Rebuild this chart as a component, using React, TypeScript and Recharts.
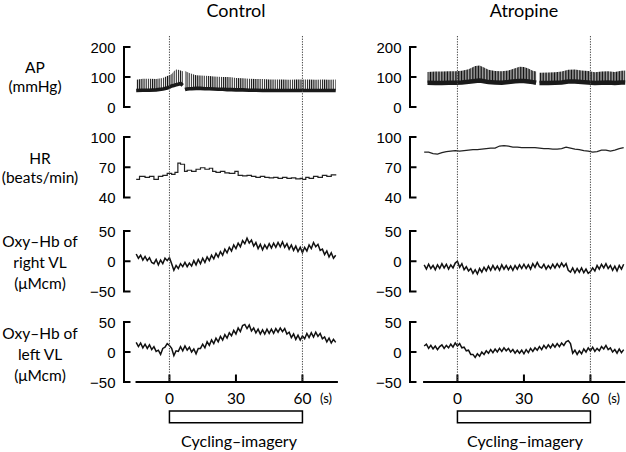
import React from 'react';
import { ComposedChart, Line, Area, XAxis, YAxis, ReferenceLine, ReferenceArea } from 'recharts';

// ---------------- data ----------------
const stimWindow = [0, 60];
const xTicks = [0, 30, 60];
const apTicks = [0, 100, 200];
const hrTicks = [40, 70, 100];
const oxyTicks = [-50, 0, 50];
const apDomain = [0, 200];
const hrDomain = [40, 100];
const oxyDomain = [-50, 50];

// Arterial pressure envelope (systolic top, mid of diastolic band), Control
const apCtrlT = [-15, -12, -9, -6, -3, -1, 0, 1, 2, 3, 4, 5, 6, 6.5, 7, 8, 9, 10, 12, 14, 16, 18, 20, 22, 24, 26, 28, 30, 33, 36, 39, 42, 45, 48, 51, 54, 57, 60, 63, 66, 69, 72, 75];
const apCtrlSys = [91, 94, 94, 93, 97, 103, 106, 110, 119, 125, 124, 122, 119, null, 120, 117, 113, 111, 106, 105, 104, 103, 102, 101, 100, 100, 99, 97, 96, 94, 93, 93, 92, 92, 92, 91, 92, 92, 92, 91, 92, 91, 92];
const apCtrlDia = [55, 56, 56, 57, 60, 63, 66, 70, 72, 74, 76, 78, 72, null, 58, 60, 61, 61, 62, 62, 61, 61, 60, 59, 59, 58, 58, 57, 57, 56, 56, 55, 55, 55, 55, 55, 55, 55, 55, 55, 55, 55, 55];

// Atropine
const apAtrT = [-13.5, -10, -7, -4, -1, 2, 5, 8, 10, 12, 14, 17, 20, 23, 26, 28, 30, 32, 34, 35.5, 36.2, 37, 41, 44, 47, 50, 53, 56, 59, 62, 65, 68, 71, 74, 76];
const apAtrSys = [117, 118, 118, 119, 119, 121, 126, 137, 138, 132, 124, 120, 119, 122, 129, 134, 133, 128, 121, 118, null, 114, 115, 116, 118, 124, 125, 122, 120, 116, 118, 119, 117, 121, 122];
const apAtrDia = [81, 80, 80, 81, 81, 82, 84, 87, 88, 86, 83, 82, 81, 83, 86, 87, 87, 85, 83, 81, null, 80, 80, 81, 82, 85, 85, 83, 82, 80, 81, 82, 80, 82, 82];

// Heart rate
const hrCtrlT = [-15, -13.5, -11, -9, -7, -5, -3, -1, 1, 2.5, 3.8, 5, 6.8, 8, 10, 12, 14, 16, 18, 19.5, 21, 23, 25, 27, 29.5, 31, 33, 35, 37, 39, 41, 43, 45, 47, 49, 51, 53, 55, 57, 59, 60, 61.5, 63, 65, 67, 69, 71, 73, 75];
const hrCtrl = [58, 61, 60, 61, 58, 61, 62, 64, 63, 65, 74, 73, 66, 67, 66, 68, 69.5, 68, 69, 66, 65, 66, 64.5, 64, 66, 62, 61.5, 62, 61, 60, 61, 60, 59.5, 60, 59, 60, 59, 59.5, 58.5, 59, 58, 60, 59, 61, 60, 62, 61, 62.5, 63];
const hrAtrT = [-15, -13, -11, -9, -7, -5, -3, -1, 1, 3, 5, 7, 9, 11, 13, 15, 17, 19, 21, 23, 25, 27, 29, 31, 33, 35, 37, 39, 41, 43, 45, 47, 49, 51, 53, 55, 57, 59, 61, 63, 65, 67, 69, 71, 73, 75];
const hrAtr = [85, 85, 83.5, 83, 84.5, 85.5, 86, 86.5, 86, 86.5, 87, 87.5, 87.5, 88, 88.5, 89, 89, 91, 91.5, 91, 90, 90, 89.5, 89.5, 89.5, 89.5, 89, 88.5, 88.5, 88, 88, 88.5, 90, 89, 88, 87.5, 86.5, 86, 85, 85.5, 87, 87, 86, 87, 88.5, 89.5];

// Oxy-Hb, one reading per second from -15 s to 75 s
const oxyT = Array.from({ length: 91 }, (_, i) => i - 15);
const oxyRCtrl = [12, 5, 10, 2, 8, 1, 6, -2, -4, 3, -6, 2, -4, 5, 1,
  6, -4, -15, -7, -12, -4, -9, -2, -9, -3,
  -8, 1, -6, 3, -4, 5, -2, 7, 1, 10,
  4, 13, 7, 16, 10, 20, 14, 23, 17, 27,
  21, 30, 24, 34, 29, 38, 30, 35, 25, 31,
  21, 28, 19, 27, 21, 29, 22, 30, 23, 31,
  24, 32, 23, 29, 20, 27, 18, 25, 16, 23,
  14, 23, 17, 27, 21, 31, 24, 28, 18, 20,
  11, 17, 7, 14, 5, 10];
const oxyLCtrl = [16, 9, 15, 7, 13, 6, 12, 4, 9, 1, 3, -4, 6, 8, 14,
  11, 6, -6, 2, 1, 9, 2, 10, 3, 8,
  0, 5, -3, 6, 6, 13, 7, 17, 11, 20,
  14, 23, 17, 26, 20, 29, 23, 32, 27, 36,
  30, 40, 34, 44, 46, 39, 45, 35, 40, 32,
  38, 30, 37, 30, 38, 31, 38, 31, 39, 33,
  40, 34, 39, 30, 33, 24, 30, 21, 28, 20,
  27, 22, 31, 24, 32, 25, 33, 26, 31, 22,
  25, 17, 23, 15, 21, 16];
const oxyRAtr = [-6, -13, -5, -12, -7, -14, -6, -12, -4, -11, -5, -13, -6, -11, -3,
  0, -10, -4, -14, -9, -16, -12, -20, -14, -21,
  -12, -18, -10, -16, -8, -15, -7, -14, -8, -15,
  -6, -13, -7, -14, -8, -15, -7, -13, -6, -12,
  -5, -12, -6, -13, -4, -10, -2, -9, -11, -5,
  -13, -7, -12, -5, -11, -4, -10, -3, -9, -4,
  -15, -18, -11, -19, -12, -18, -11, -19, -13, -20,
  -17, -11, -16, -7, -13, -5, -11, -4, -12, -7,
  -15, -8, -16, -7, -13, -5];
const oxyLAtr = [10, 13, 6, 11, 5, 10, 4, 9, 12, 6, 11, 7, 13, 8, 15,
  10, 14, 7, 8, 2, 3, -4, -4, -9, -3,
  -7, 0, -4, 2, -2, 4, -1, 5, 0, 6,
  1, 7, 2, 6, 0, 4, -2, 3, -2, 3,
  -3, 4, -1, 6, 1, 7, 3, 9, 4, 11,
  6, 12, 7, 13, 8, 14, 9, 15, 11, 17,
  19, 14, -2, 3, -4, 2, -3, 5, 0, 7,
  2, 8, 1, 6, 2, 9, 5, 11, 4, 7,
  0, 4, -2, 5, -1, 4];

const rowLabels = [
  ['AP', '(mmHg)'],
  ['HR', '(beats/min)'],
  ['Oxy\u2013Hb of', 'right VL', '(\u03bcMcm)'],
  ['Oxy\u2013Hb of', 'left VL', '(\u03bcMcm)'],
];
const titles = ['Control', 'Atropine'];
const stimLabel = 'Cycling\u2013imagery';
const unitLabel = '(s)';

// ---------------- layout ----------------
const FONT = 'Lato, "Open Sans", sans-serif';
const NUM_FONT = '"Liberation Sans", Arial, sans-serif';
const PX_PER_S = 2.2167;
const YW = 45;
const MT = 8;
const MB = 8;
const MR = 4;
const DOT_TOP = 36;
const AXIS_Y = 381.8;
const BOX_TOP = 411;
const BOX_BOTTOM = 422.7;

const COLS = [
  { key: 'ctrl', axisX: 123.5, xMin: -20.5, xMax: 76, axisStart: -15.3, titleX: 236, cycX: 239, sX: 326, beat: 2.15, rectW: 1.1, diaW: 3.6 },
  { key: 'atr', axisX: 410.3, xMin: -21.4, xMax: 75.7, axisStart: -15.5, titleX: 524, cycX: 525, sX: 614, beat: 1.55, rectW: 1.05, diaW: 4.5 },
];
const ROWS = [
  { top: 46.5, bottom: 106.5 },
  { top: 137, bottom: 197.5 },
  { top: 230.5, bottom: 291 },
  { top: 321.8, bottom: 381.8 },
];
const labelLayout = [
  { x: 35, ys: [73, 92] },
  { x: 40, ys: [163.5, 182.5] },
  { x: 40, ys: [246.5, 268, 288.5] },
  { x: 40, ys: [338.5, 360, 380.5] },
];

const fmt = (v: number) => (v < 0 ? `\u2212${Math.abs(v)}` : `${v}`);

const YTick = (props: any) => {
  const { x, y, payload } = props;
  return (
    <g>
      <line x1={x - 1} x2={x + 6.5} y1={y} y2={y} stroke="#000" strokeWidth={2} />
      <text x={x - 8.5} y={y + 5.6} textAnchor="end" fontFamily={NUM_FONT} fontSize={15} fill="#000">
        {fmt(payload.value)}
      </text>
    </g>
  );
};

const XTick = (props: any) => {
  const { x, y, payload } = props;
  return (
    <g>
      <line x1={x} x2={x} y1={y - 7.5} y2={y} stroke="#000" strokeWidth={2} />
      <text x={x} y={y + 22.3} textAnchor="middle" fontFamily={FONT} fontSize={15.5} fill="#000">
        {payload.value}
      </text>
    </g>
  );
};

function Panel(props: any) {
  const { col, row, data, domain, ticks, showX, children } = props;
  const plotW = (col.xMax - col.xMin) * PX_PER_S;
  const plotH = row.bottom - row.top;
  const xH = showX ? 34 : 0;
  const width = YW + plotW + MR;
  const height = MT + plotH + xH + MB;
  return (
    <div style={{ position: 'absolute', left: col.axisX - YW, top: row.top - MT, width, height }}>
      <ComposedChart width={width} height={height} data={data} margin={{ top: MT, right: MR, bottom: MB, left: 0 }}>
        <XAxis
          dataKey="t"
          type="number"
          domain={[col.xMin, col.xMax]}
          allowDataOverflow
          hide={!showX}
          height={showX ? xH : 0}
          ticks={xTicks}
          interval={0}
          tickLine={false}
          axisLine={false}
          tickSize={0}
          tickMargin={0}
          tick={(p: any) => <XTick {...p} />}
        />
        <YAxis
          type="number"
          domain={domain}
          allowDataOverflow
          ticks={ticks}
          interval={0}
          width={YW}
          tickLine={false}
          axisLine={{ stroke: '#000', strokeWidth: 2 }}
          tickSize={0}
          tickMargin={0}
          tick={(p: any) => <YTick {...p} />}
        />
        {children}
        {showX && (
          <ReferenceLine
            segment={[{ x: col.axisStart, y: domain[0] }, { x: col.xMax, y: domain[0] }]}
            stroke="#000"
            strokeWidth={2}
          />
        )}
      </ComposedChart>
    </div>
  );
}

function Overlay({ col }: any) {
  const plotW = (col.xMax - col.xMin) * PX_PER_S;
  const mt = 4;
  const mb = 4;
  const width = YW + plotW + MR;
  const height = mt + (BOX_BOTTOM - DOT_TOP) + mb;
  const stimData = stimWindow.map((t) => ({ t }));
  return (
    <div style={{ position: 'absolute', left: col.axisX - YW, top: DOT_TOP - mt, width, height, pointerEvents: 'none' }}>
      <ComposedChart width={width} height={height} data={stimData} margin={{ top: mt, right: MR, bottom: mb, left: YW }}>
        <XAxis dataKey="t" type="number" domain={[col.xMin, col.xMax]} allowDataOverflow hide />
        <YAxis type="number" domain={[-BOX_BOTTOM, -DOT_TOP]} allowDataOverflow hide />
        {stimWindow.map((v) => (
          <ReferenceLine
            key={v}
            segment={[{ x: v, y: -DOT_TOP }, { x: v, y: -AXIS_Y }]}
            stroke="#444"
            strokeWidth={1}
            strokeDasharray="1.3 1.3"
          />
        ))}
        <ReferenceArea
          x1={stimWindow[0]}
          x2={stimWindow[1]}
          y1={-BOX_BOTTOM}
          y2={-BOX_TOP}
          stroke="#000"
          strokeWidth={1.5}
          fill="#fff"
          fillOpacity={1}
        />
      </ComposedChart>
    </div>
  );
}

const apData = [
  apCtrlT.map((t, i) => ({ t, sys: apCtrlSys[i], dia: apCtrlDia[i] })),
  apAtrT.map((t, i) => ({ t, sys: apAtrSys[i], dia: apAtrDia[i] })),
];
const hrData = [
  hrCtrlT.map((t, i) => ({ t, hr: hrCtrl[i] })),
  hrAtrT.map((t, i) => ({ t, hr: hrAtr[i] })),
];
const oxyRData = [
  oxyT.map((t, i) => ({ t, v: oxyRCtrl[i] })),
  oxyT.map((t, i) => ({ t, v: oxyRAtr[i] })),
];
const oxyLData = [
  oxyT.map((t, i) => ({ t, v: oxyLCtrl[i] })),
  oxyT.map((t, i) => ({ t, v: oxyLAtr[i] })),
];

export default function App() {
  return (
    <div style={{ position: 'absolute', left: 0, top: 0, width: 626, height: 452, overflow: 'hidden', background: '#fff' }}>
      <svg width={626} height={452} style={{ position: 'absolute', left: 0, top: 0 }}>
        {titles.map((t, i) => (
          <text key={t} x={COLS[i].titleX} y={17} textAnchor="middle" fontFamily={FONT} fontSize={18} fill="#000">
            {t}
          </text>
        ))}
        {rowLabels.map((lines, r) =>
          lines.map((s, k) => (
            <text key={`${r}-${k}`} x={labelLayout[r].x} y={labelLayout[r].ys[k]} textAnchor="middle" fontFamily={FONT} fontSize={15.5} fill="#000">
              {s}
            </text>
          ))
        )}
        {COLS.map((c) => (
          <g key={c.key}>
            <text x={c.sX} y={403} textAnchor="middle" fontFamily={FONT} fontSize={13} fill="#000">
              {unitLabel}
            </text>
            <text x={c.cycX} y={446.5} textAnchor="middle" fontFamily={FONT} fontSize={16} fill="#000">
              {stimLabel}
            </text>
          </g>
        ))}
      </svg>
      {COLS.map((col, ci) => (
        <React.Fragment key={col.key}>
          <Panel col={col} row={ROWS[0]} data={apData[ci]} domain={apDomain} ticks={apTicks}>
            <defs>
              <pattern id={`hatch-${col.key}`} width={col.beat} height={8} patternUnits="userSpaceOnUse">
                <rect x={0} y={0} width={col.rectW} height={8} fill="#111" />
              </pattern>
            </defs>
            <Area
              type="linear"
              dataKey={(d: any) => (d.sys == null ? null : [d.dia, d.sys])}
              stroke="none"
              fill={`url(#hatch-${col.key})`}
              fillOpacity={1}
              isAnimationActive={false}
              dot={false}
              activeDot={false}
            />
            <Line type="linear" dataKey="dia" stroke="#1a1a1a" strokeWidth={col.diaW} dot={false} activeDot={false} isAnimationActive={false} />
          </Panel>
          <Panel col={col} row={ROWS[1]} data={hrData[ci]} domain={hrDomain} ticks={hrTicks}>
            <Line
              type={ci === 0 ? 'stepAfter' : 'linear'}
              dataKey="hr"
              stroke="#222"
              strokeWidth={1.2}
              dot={false}
              activeDot={false}
              isAnimationActive={false}
            />
          </Panel>
          <Panel col={col} row={ROWS[2]} data={oxyRData[ci]} domain={oxyDomain} ticks={oxyTicks}>
            <Line type="linear" dataKey="v" stroke="#111" strokeWidth={1.5} dot={false} activeDot={false} isAnimationActive={false} />
          </Panel>
          <Panel col={col} row={ROWS[3]} data={oxyLData[ci]} domain={oxyDomain} ticks={oxyTicks} showX>
            <Line type="linear" dataKey="v" stroke="#111" strokeWidth={1.5} dot={false} activeDot={false} isAnimationActive={false} />
          </Panel>
          <Overlay col={col} />
        </React.Fragment>
      ))}
    </div>
  );
}
